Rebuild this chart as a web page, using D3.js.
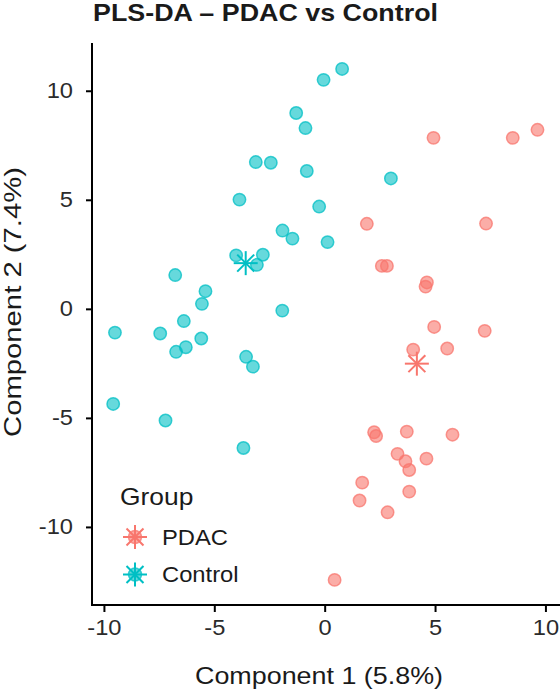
<!DOCTYPE html>
<html><head><meta charset="utf-8">
<script src="https://cdn.jsdelivr.net/npm/d3@7"></script>
<style>body{margin:0;background:#fff}svg{display:block}text{font-family:"Liberation Sans",Arial,sans-serif}</style>
</head><body>
<svg id="c" width="560" height="691"></svg>
<script>
const groups = ["PDAC", "Control"];
const colors = ["#F8766D", "#00BFC4"];
const pdacX = [4.93, 8.52, 9.64, 1.91, 7.31, 2.59, 2.82, 4.63, 4.57, 4.96, 7.25, 4.01, 5.55, 2.24, 2.33, 3.72, 5.79, 3.30, 3.66, 4.61, 3.83, 1.70, 1.58, 3.83, 2.85, 0.45];
const pdacY = [7.84, 7.84, 8.21, 3.90, 3.91, 1.97, 1.97, 1.21, 1.02, -0.83, -1.01, -1.87, -1.82, -5.66, -5.83, -5.63, -5.77, -6.65, -6.99, -6.87, -7.39, -7.97, -8.79, -8.38, -9.33, -12.43];
const ctrlX = [0.79, -0.05, -1.29, -0.87, -3.12, -2.44, -0.81, -3.86, 3.00, -0.25, -1.91, -1.46, 0.13, -4.01, -2.80, -3.07, -6.77, -5.40, -5.56, -1.92, -9.50, -7.45, -6.38, -5.59, -6.73, -6.29, -3.56, -3.25, -9.58, -7.21, -3.68];
const ctrlY = [11.0, 10.5, 8.98, 8.29, 6.73, 6.70, 6.32, 5.01, 5.98, 4.69, 3.59, 3.22, 3.06, 2.45, 2.48, 2.02, 1.55, 0.81, 0.23, -0.08, -1.09, -1.13, -0.56, -1.36, -1.97, -1.76, -2.20, -2.65, -4.36, -5.12, -6.38];
const xTicks = [-10, -5, 0, 5, 10];
const yTicks = [-10, -5, 0, 5, 10];
const title = "PLS-DA \u2013 PDAC vs Control";
const xTitle = "Component 1 (5.8%)";
const yTitle = "Component 2 (7.4%)";

const svg = d3.select("#c");
const L = 92, R = 560, T = 43, B = 605;
const x = d3.scaleLinear().domain([-10.54, 10.66]).range([L, R]);
const y = d3.scaleLinear().domain([-13.58, 12.19]).range([B, T]);
const FONT = '"Liberation Sans",Arial,sans-serif';

function widen(sel, k) {
  sel.each(function () {
    const len = this.getComputedTextLength();
    d3.select(this).attr("textLength", len * k).attr("lengthAdjust", "spacingAndGlyphs");
  });
}

const data = [
  {g: 0, xs: pdacX, ys: pdacY},
  {g: 1, xs: ctrlX, ys: ctrlY}
];

function star(sel, cx, cy, r, col) {
  const gS = sel.append("g").attr("transform", `translate(${cx},${cy})`)
    .attr("stroke", col).attr("stroke-width", 2);
  [0, 45, 90, 135].forEach(a => {
    const rad = a * Math.PI / 180;
    gS.append("line").attr("x1", -r * Math.cos(rad)).attr("y1", -r * Math.sin(rad))
      .attr("x2", r * Math.cos(rad)).attr("y2", r * Math.sin(rad));
  });
}

data.forEach(d => {
  const pts = d.xs.map((v, i) => [v, d.ys[i]]);
  svg.append("g").selectAll("circle").data(pts).join("circle")
    .attr("cx", p => x(p[0])).attr("cy", p => y(p[1])).attr("r", 6.2)
    .attr("fill", colors[d.g]).attr("fill-opacity", 0.6)
    .attr("stroke", colors[d.g]).attr("stroke-opacity", 0.75).attr("stroke-width", 1.5);
});
data.forEach(d => {
  star(svg, x(d3.mean(d.xs)), y(d3.mean(d.ys)), 12, colors[d.g]);
});

const xa = svg.append("g").attr("transform", `translate(0,${B})`)
  .call(d3.axisBottom(x).tickValues(xTicks).tickSize(7).tickSizeOuter(0).tickPadding(8).tickFormat(d3.format("d")));
const ya = svg.append("g").attr("transform", `translate(${L},0)`)
  .call(d3.axisLeft(y).tickValues(yTicks).tickSize(6).tickSizeOuter(0).tickPadding(13).tickFormat(d3.format("d")));
[xa, ya].forEach(a => {
  a.select(".domain").attr("stroke", "#000").attr("stroke-width", 2);
  a.selectAll(".tick line").attr("stroke", "#000").attr("stroke-width", 2);
  a.selectAll(".tick text").attr("fill", "#2b2b2b").attr("font-size", 21.5)
    .style("font-family", FONT).text(d => String(d).replace("\u2212", "-"));
  widen(a.selectAll(".tick text"), 1.1);
});
xa.select(".domain").attr("d", `M${L - 1},0H${R}`);
ya.select(".domain").attr("d", `M0,${T}V${B + 1}`);

svg.append("text").attr("x", 93).attr("y", 21).attr("font-size", 24).attr("font-weight", "bold")
  .attr("fill", "#1a1a1a").text(title)
  .attr("textLength", 345).attr("lengthAdjust", "spacingAndGlyphs");
svg.append("text").attr("x", 319).attr("y", 684).attr("text-anchor", "middle").attr("font-size", 24)
  .attr("fill", "#1a1a1a").text(xTitle)
  .attr("textLength", 248).attr("lengthAdjust", "spacingAndGlyphs");
svg.append("text").attr("transform", "translate(21,302) rotate(-90)").attr("text-anchor", "middle")
  .attr("font-size", 24.5).attr("fill", "#1a1a1a").text(yTitle)
  .attr("textLength", 270).attr("lengthAdjust", "spacingAndGlyphs");

const lg = svg.append("g");
const lt = lg.append("text").attr("x", 120).attr("y", 505).attr("font-size", 24).attr("fill", "#1a1a1a").text("Group");
widen(lt, 1.1);
groups.forEach((g, i) => {
  const cy = 537 + i * 37.5;
  lg.append("circle").attr("cx", 135).attr("cy", cy).attr("r", 6.5)
    .attr("fill", colors[i]).attr("fill-opacity", 0.6)
    .attr("stroke", colors[i]).attr("stroke-opacity", 0.75).attr("stroke-width", 1.5);
  star(lg, 135, cy, 12, colors[i]);
  const tx = lg.append("text").attr("x", 162).attr("y", cy).attr("dy", "0.36em").attr("font-size", 22)
    .attr("fill", "#1a1a1a").text(g);
  widen(tx, 1.08);
});
</script>
</body></html>
